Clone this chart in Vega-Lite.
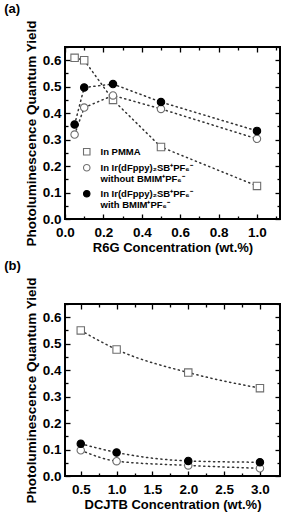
{
  "$schema": "https://vega.github.io/schema/vega-lite/v6.json",
  "padding": {"left": 3, "top": 1, "right": 9, "bottom": 0},
  "spacing": 2,
  "datasets": {
    "a": [
      {"c": 0.05, "q": 0.609, "s": "PMMA"},
      {"c": 0.1, "q": 0.6, "s": "PMMA"},
      {"c": 0.25, "q": 0.45, "s": "PMMA"},
      {"c": 0.5, "q": 0.272, "s": "PMMA"},
      {"c": 1.0, "q": 0.125, "s": "PMMA"},
      {"c": 0.05, "q": 0.319, "s": "without"},
      {"c": 0.1, "q": 0.421, "s": "without"},
      {"c": 0.25, "q": 0.467, "s": "without"},
      {"c": 0.5, "q": 0.416, "s": "without"},
      {"c": 1.0, "q": 0.303, "s": "without"},
      {"c": 0.05, "q": 0.357, "s": "with"},
      {"c": 0.1, "q": 0.497, "s": "with"},
      {"c": 0.25, "q": 0.51, "s": "with"},
      {"c": 0.5, "q": 0.442, "s": "with"},
      {"c": 1.0, "q": 0.333, "s": "with"}
    ],
    "b": [
      {"c": 0.5, "q": 0.55, "s": "PMMA"},
      {"c": 1.0, "q": 0.478, "s": "PMMA"},
      {"c": 2.0, "q": 0.391, "s": "PMMA"},
      {"c": 3.0, "q": 0.332, "s": "PMMA"},
      {"c": 0.5, "q": 0.097, "s": "without"},
      {"c": 1.0, "q": 0.056, "s": "without"},
      {"c": 2.0, "q": 0.04, "s": "without"},
      {"c": 3.0, "q": 0.029, "s": "without"},
      {"c": 0.5, "q": 0.122, "s": "with"},
      {"c": 1.0, "q": 0.089, "s": "with"},
      {"c": 2.0, "q": 0.057, "s": "with"},
      {"c": 3.0, "q": 0.052, "s": "with"}
    ]
  },
  "resolve": {"scale": {"shape": "independent", "fill": "independent", "stroke": "independent"}},
  "vconcat": [
    {
      "title": {"text": "(a)"},
      "width": 215,
      "height": 172,
      "data": {"name": "a"},
      "resolve": {"axis": {"x": "independent", "y": "independent"}},
      "layer": [
        {
          "mark": {"type": "line", "strokeDash": [1.2, 3.6], "strokeWidth": 1.5, "color": "#333", "strokeCap": "round"},
          "encoding": {
            "x": {"field": "c", "type": "quantitative", "scale": {"domain": [0, 1.12], "nice": false, "zero": false},
              "axis": {"orient": "bottom", "title": "R6G Concentration (wt.%)", "values": [0, 0.2, 0.4, 0.6, 0.8, 1.0], "format": ".1f", "tickSize": -5, "labelPadding": 11, "titlePadding": 3, "titleFontSize": 13, "labelFlush": false}},
            "y": {"field": "q", "type": "quantitative", "scale": {"domain": [0, 0.65], "nice": false, "zero": false},
              "axis": {"orient": "left", "title": "Photoluminescence Quantum Yield", "values": [0, 0.1, 0.2, 0.3, 0.4, 0.5, 0.6], "format": ".1f", "tickSize": -5, "labelPadding": 9, "titlePadding": 4, "labelFlush": false}},
            "detail": {"field": "s"}
          }
        },
        {
          "mark": {"type": "point", "filled": true, "size": 55, "strokeWidth": 1.1, "opacity": 1},
          "encoding": {
            "x": {"field": "c", "type": "quantitative",
              "axis": {"orient": "bottom", "title": null, "labels": false, "values": [0.1, 0.3, 0.5, 0.7, 0.9, 1.1], "tickSize": -3}},
            "y": {"field": "q", "type": "quantitative",
              "axis": {"orient": "left", "title": null, "labels": false, "values": [0.05, 0.15, 0.25, 0.35, 0.45, 0.55, 0.65], "tickSize": -3}},
            "shape": {"field": "s", "type": "nominal", "scale": {"domain": ["PMMA", "without", "with"], "range": ["square", "circle", "circle"]},
              "legend": {"orient": "none", "legendX": 17, "legendY": 100, "title": null, "labelFont": "Liberation Sans", "labelFontWeight": "bold", "labelFontSize": 9.5, "labelColor": "black", "symbolSize": 42, "symbolStrokeWidth": 1.1, "labelOffset": 9, "rowPadding": 4, "labelLimit": 400,
                "labelExpr": "datum.value == 'PMMA' ? 'In PMMA' : datum.value == 'without' ? ['In Ir(dFppy)₂SB⁺PF₆⁻', 'without BMIM⁺PF₆⁻'] : ['In Ir(dFppy)₂SB⁺PF₆⁻', 'with BMIM⁺PF₆⁻']"}},
            "fill": {"field": "s", "type": "nominal", "scale": {"domain": ["PMMA", "without", "with"], "range": ["white", "white", "black"]}},
            "stroke": {"field": "s", "type": "nominal", "scale": {"domain": ["PMMA", "without", "with"], "range": ["#6e6e6e", "#6e6e6e", "black"]}}
          }
        },
        {
          "mark": {"type": "point", "opacity": 0},
          "encoding": {
            "x": {"field": "c", "type": "quantitative",
              "axis": {"orient": "top", "title": null, "labels": false, "values": [0, 0.2, 0.4, 0.6, 0.8, 1.0], "tickSize": -5}},
            "y": {"field": "q", "type": "quantitative",
              "axis": {"orient": "right", "title": null, "labels": false, "values": [0, 0.1, 0.2, 0.3, 0.4, 0.5, 0.6], "tickSize": -5}}
          }
        },
        {
          "mark": {"type": "point", "opacity": 0},
          "encoding": {
            "x": {"field": "c", "type": "quantitative",
              "axis": {"orient": "top", "title": null, "labels": false, "values": [0.1, 0.3, 0.5, 0.7, 0.9, 1.1], "tickSize": -3}},
            "y": {"field": "q", "type": "quantitative",
              "axis": {"orient": "right", "title": null, "labels": false, "values": [0.05, 0.15, 0.25, 0.35, 0.45, 0.55, 0.65], "tickSize": -3}}
          }
        }
      ]
    },
    {
      "title": {"text": "(b)"},
      "width": 215,
      "height": 172,
      "data": {"name": "b"},
      "resolve": {"axis": {"x": "independent", "y": "independent"}},
      "layer": [
        {
          "mark": {"type": "line", "strokeDash": [1.2, 3.6], "strokeWidth": 1.5, "color": "#333", "strokeCap": "round", "interpolate": "monotone"},
          "encoding": {
            "x": {"field": "c", "type": "quantitative", "scale": {"domain": [0.28, 3.28], "nice": false, "zero": false},
              "axis": {"orient": "bottom", "title": "DCJTB Concentration (wt.%)", "values": [0.5, 1.0, 1.5, 2.0, 2.5, 3.0], "format": ".1f", "tickSize": -5, "labelPadding": 11, "titlePadding": 3, "titleFontSize": 13, "labelFlush": false}},
            "y": {"field": "q", "type": "quantitative", "scale": {"domain": [0, 0.65], "nice": false, "zero": false},
              "axis": {"orient": "left", "title": "Photoluminescence Quantum Yield", "values": [0, 0.1, 0.2, 0.3, 0.4, 0.5, 0.6], "format": ".1f", "tickSize": -5, "labelPadding": 9, "titlePadding": 4, "labelFlush": false}},
            "detail": {"field": "s"}
          }
        },
        {
          "mark": {"type": "point", "filled": true, "size": 55, "strokeWidth": 1.1, "opacity": 1},
          "encoding": {
            "x": {"field": "c", "type": "quantitative",
              "axis": {"orient": "bottom", "title": null, "labels": false, "values": [0.75, 1.25, 1.75, 2.25, 2.75], "tickSize": -3}},
            "y": {"field": "q", "type": "quantitative",
              "axis": {"orient": "left", "title": null, "labels": false, "values": [0.05, 0.15, 0.25, 0.35, 0.45, 0.55, 0.65], "tickSize": -3}},
            "shape": {"field": "s", "type": "nominal", "scale": {"domain": ["PMMA", "without", "with"], "range": ["square", "circle", "circle"]}, "legend": null},
            "fill": {"field": "s", "type": "nominal", "scale": {"domain": ["PMMA", "without", "with"], "range": ["white", "white", "black"]}, "legend": null},
            "stroke": {"field": "s", "type": "nominal", "scale": {"domain": ["PMMA", "without", "with"], "range": ["#6e6e6e", "#6e6e6e", "black"]}, "legend": null}
          }
        },
        {
          "mark": {"type": "point", "opacity": 0},
          "encoding": {
            "x": {"field": "c", "type": "quantitative",
              "axis": {"orient": "top", "title": null, "labels": false, "values": [0.5, 1.0, 1.5, 2.0, 2.5, 3.0], "tickSize": -5}},
            "y": {"field": "q", "type": "quantitative",
              "axis": {"orient": "right", "title": null, "labels": false, "values": [0, 0.1, 0.2, 0.3, 0.4, 0.5, 0.6], "tickSize": -5}}
          }
        },
        {
          "mark": {"type": "point", "opacity": 0},
          "encoding": {
            "x": {"field": "c", "type": "quantitative",
              "axis": {"orient": "top", "title": null, "labels": false, "values": [0.75, 1.25, 1.75, 2.25, 2.75], "tickSize": -3}},
            "y": {"field": "q", "type": "quantitative",
              "axis": {"orient": "right", "title": null, "labels": false, "values": [0.05, 0.15, 0.25, 0.35, 0.45, 0.55, 0.65], "tickSize": -3}}
          }
        }
      ]
    }
  ],
  "config": {
    "view": {"stroke": "black", "strokeWidth": 2},
    "font": "Liberation Sans",
    "axis": {"labelFont": "Liberation Sans", "labelFontWeight": "bold", "labelFontSize": 13.5, "labelColor": "black", "titleFont": "Liberation Sans", "titleFontWeight": "bold", "titleFontSize": 13.5, "titleColor": "black", "grid": false, "domain": false, "ticks": true, "tickColor": "black", "tickWidth": 1.3},
    "title": {"font": "Liberation Sans", "fontWeight": "bold", "fontSize": 13, "color": "black", "anchor": "start", "frame": "bounds", "offset": 4, "dx": -20}
  }
}
